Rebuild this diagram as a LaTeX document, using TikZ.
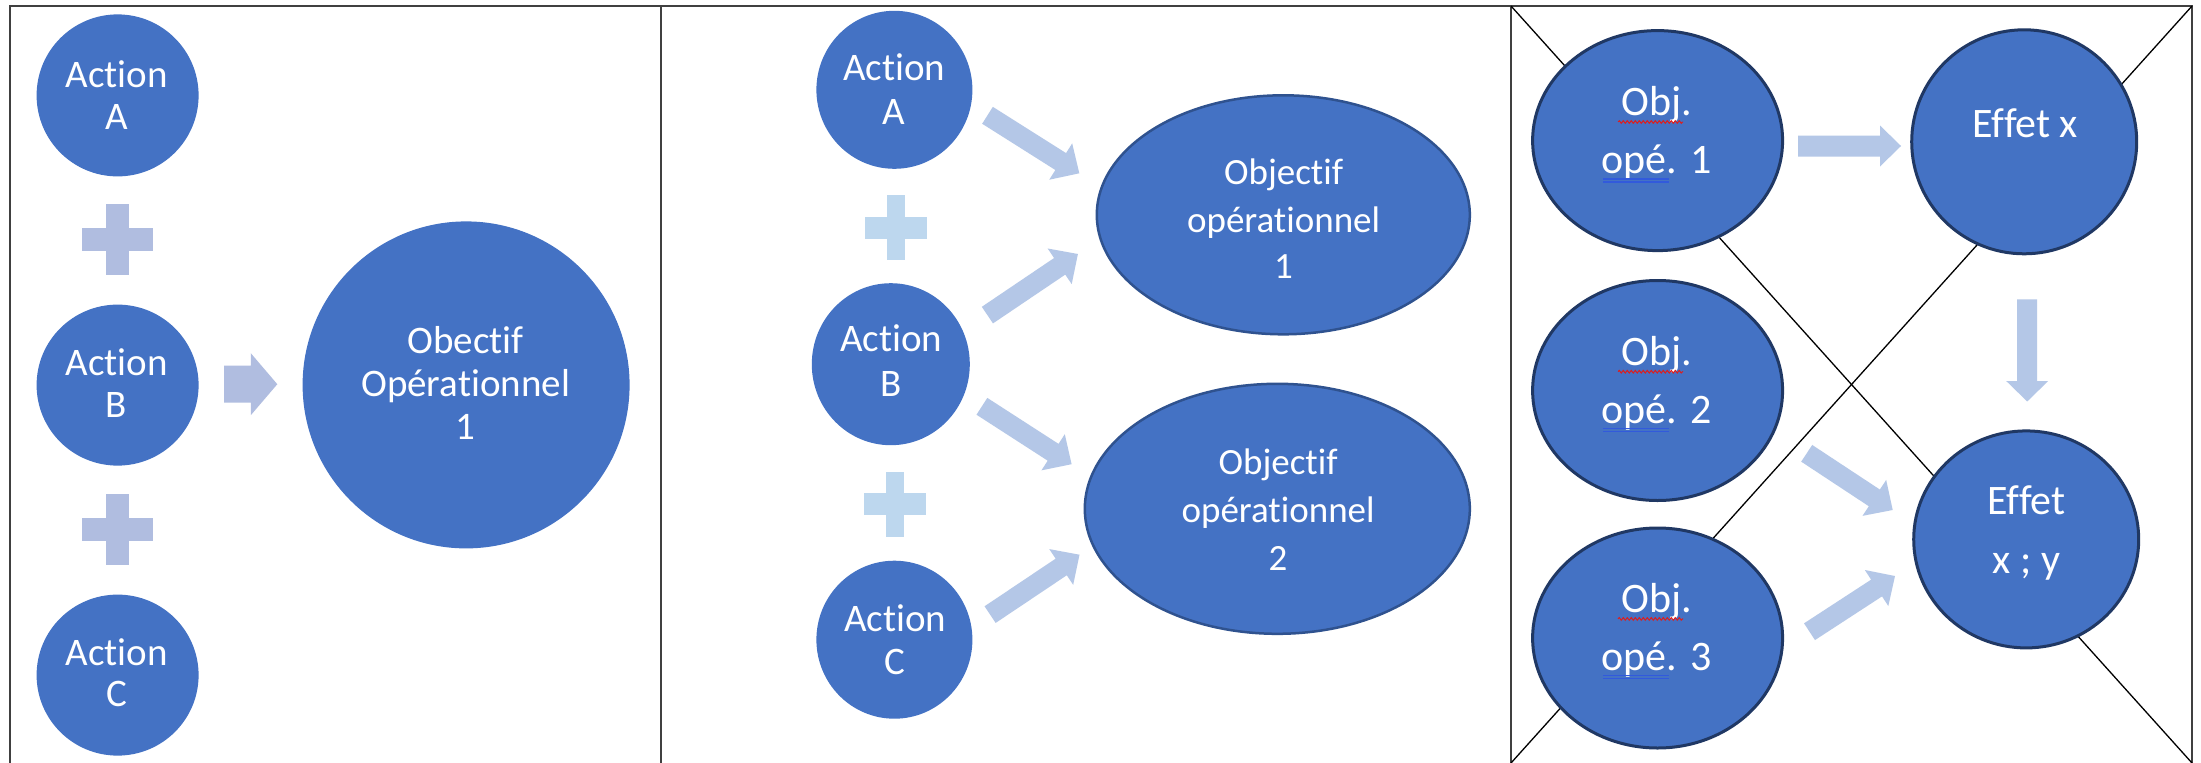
\documentclass[tikz,border=0pt]{standalone}
\usepackage{fontspec}
\setmainfont{Carlito}[Ligatures={NoCommon}]
\usetikzlibrary{shapes.geometric,calc,decorations.pathmorphing}
\definecolor{nodeblue}{HTML}{4472C4}
\definecolor{edgeblue}{HTML}{2F528F}
\definecolor{darknavy}{HTML}{203864}
\definecolor{lav}{RGB}{176,189,224}
\definecolor{paleblue}{RGB}{189,215,238}
\definecolor{arrblue}{RGB}{180,199,231}
\definecolor{framegray}{HTML}{404040}
\definecolor{spellred}{RGB}{220,30,30}
\definecolor{spellblue}{RGB}{50,90,220}
% block arrow: #1 tail, #2 tip, #3 half shaft, #4 half head, #5 head length, #6 colour
\newcommand\blockarr[6]{%
  \coordinate (hb) at ($(#2)!#5pt!(#1)$);
  \fill[#6] ($(#1)!#3pt!90:(#2)$) -- ($(hb)!#3pt!90:(#2)$) -- ($(hb)!#4pt!90:(#2)$)
    -- (#2) -- ($(hb)!#4pt!-90:(#2)$) -- ($(hb)!#3pt!-90:(#2)$) -- ($(#1)!#3pt!-90:(#2)$) -- cycle;}
% plus sign: #1 centre, #2 half length x, #3 half length y, #4 half width of vertical bar, #5 half height of horizontal bar, #6 colour
\newcommand\plussign[6]{%
  \fill[#6] ($(#1)+(-#4,-#3)$) rectangle ($(#1)+(#4,#3)$);
  \fill[#6] ($(#1)+(-#2,-#5)$) rectangle ($(#1)+(#2,#5)$);}
\begin{document}
\begin{tikzpicture}[x=1pt,y=-1pt,
  shp/.style 2 args={ellipse, fill=nodeblue, inner sep=0pt, minimum width=#1pt, minimum height=#2pt},
  shpb/.style 2 args={ellipse, fill=nodeblue, draw=edgeblue, line width=2.5pt, inner sep=0pt, minimum width=#1pt, minimum height=#2pt},
  shpc/.style 2 args={ellipse, fill=nodeblue, draw=darknavy, line width=3pt, inner sep=0pt, minimum width=#1pt, minimum height=#2pt},
  tone/.style={text=white, inner sep=0pt, anchor=base, font=\fontsize{39}{44}\selectfont},
  ttwo/.style={text=white, inner sep=0pt, anchor=base, font=\fontsize{37}{44}\selectfont},
  tthree/.style={text=white, inner sep=0pt, anchor=base, font=\fontsize{42}{48}\selectfont},
  frame/.style={draw=framegray, line width=2pt},
  cross/.style={draw=black, line width=1.3pt},
  wavy/.style={draw=spellred, line width=1pt, decorate, decoration={snake, amplitude=1.3pt, segment length=4pt}},
  dbl/.style={draw=spellblue, line width=1.1pt}]
\useasboundingbox (0,0) rectangle (2201,763);
\fill[white] (0,0) rectangle (2201,763);

% frame
\coordinate (fTL) at (10,6);
\coordinate (fTR) at (2192,6);
\coordinate (fBL) at (10,763);
\coordinate (fBR) at (2192,763);
\coordinate (d1T) at (661,6);
\coordinate (d1B) at (661,763);
\coordinate (d2T) at (1511,6);
\coordinate (d2B) at (1511,763);
\draw[frame] (fBL) -- (fTL) -- (fTR) -- (fBR);
\draw[frame] (d1T) -- (d1B);
\draw[frame] (d2T) -- (d2B);
% cross in third panel
\draw[cross] (d2T) -- (fBR);
\draw[cross] (fTR) -- (d2B);

% ---------- panel 1 ----------
\node[shp={162}{162}] (p1A) at (117.6,95.4) {};
\node[shp={162}{161}] (p1B) at (117.6,385.1) {};
\node[shp={162}{161}] (p1C) at (117.6,675.1) {};
\node[shp={327}{327}] (p1O) at (466.1,384.9) {};
\coordinate (p1plus1) at (117,239.8);
\coordinate (p1plus2) at (117,529);
\plussign{p1plus1}{35.5}{35.5}{11.5}{11.5}{lav}
\plussign{p1plus2}{35.5}{35.5}{11.5}{11.5}{lav}
\coordinate (p1at) at (224,384.2);
\coordinate (p1ah) at (277.3,384.2);
\blockarr{p1at}{p1ah}{18.5}{31}{26.5}{lav}
\node[tone] (t1A1) at (116.5,87.6) {Action};
\node[tone] (t1A2) at (116.5,129) {A};
\node[tone] (t1B1) at (116.5,375.7) {Action};
\node[tone] (t1B2) at (116.5,417.5) {B};
\node[tone] (t1C1) at (116.5,665.2) {Action};
\node[tone] (t1C2) at (116.5,706.6) {C};
\node[tone] (t1O1) at (465.6,353.3) {Obectif};
\node[tone] (t1O2) at (465.6,396.6) {Opérationnel};
\node[tone] (t1O3) at (465.6,439) {1};

% ---------- panel 2 ----------
\node[shp={156}{158}] (p2A) at (894.4,89.8) {};
\node[shp={158}{162}] (p2B) at (890.8,364.2) {};
\node[shp={156}{158}] (p2C) at (894.4,639.7) {};
\node[shpb={373}{239}] (p2O1) at (1283.3,214.8) {};
\node[shpb={385}{250}] (p2O2) at (1277.3,508.8) {};
\coordinate (p2plus1) at (895.8,227.5);
\coordinate (p2plus2) at (894.7,504.4);
\plussign{p2plus1}{31}{32.5}{9}{11}{paleblue}
\plussign{p2plus2}{31}{32.5}{9}{11}{paleblue}
\coordinate (a1t) at (987.5,115.3);
\coordinate (a1h) at (1079.3,173.3);
\coordinate (a2t) at (987.4,315.1);
\coordinate (a2h) at (1077.9,254);
\coordinate (a3t) at (981.9,406.3);
\coordinate (a3h) at (1071.6,464.2);
\coordinate (a4t) at (990.1,614.6);
\coordinate (a4h) at (1079.5,554.7);
\blockarr{a1t}{a1h}{10}{21.5}{22}{arrblue}
\blockarr{a2t}{a2h}{10}{21.5}{22}{arrblue}
\blockarr{a3t}{a3h}{10}{21.5}{22}{arrblue}
\blockarr{a4t}{a4h}{10}{21.5}{22}{arrblue}
\node[tone] (t2A1) at (894.1,80.3) {Action};
\node[tone] (t2A2) at (894.1,124.1) {A};
\node[tone] (t2B1) at (891.4,351.3) {Action};
\node[tone] (t2B2) at (891.4,396.6) {B};
\node[tone] (t2C1) at (895.2,631.1) {Action};
\node[tone] (t2C2) at (895.2,674) {C};
\node[ttwo] (t2O11) at (1283.6,184.9) {Objectif};
\node[ttwo] (t2O12) at (1283.6,232.1) {opérationnel};
\node[ttwo] (t2O13) at (1283.6,278.8) {1};
\node[ttwo] (t2O21) at (1278.1,474.5) {Objectif};
\node[ttwo] (t2O22) at (1278.1,522.1) {opérationnel};
\node[ttwo] (t2O23) at (1278.1,570.8) {2};

% ---------- panel 3 ----------
\node[shpc={250}{220}] (p3O1) at (1657.6,140.6) {};
\node[shpc={250}{220}] (p3O2) at (1657.6,390.5) {};
\node[shpc={250}{220}] (p3O3) at (1657.6,638) {};
\node[shpc={225}{224}] (p3E1) at (2024.2,141.8) {};
\node[shpc={225}{217}] (p3E2) at (2026.2,539.4) {};
\coordinate (b1t) at (1798.2,146);
\coordinate (b1h) at (1901,146);
\coordinate (b2t) at (2027.2,299.3);
\coordinate (b2h) at (2027.2,401.5);
\coordinate (b3t) at (1806.7,453.3);
\coordinate (b3h) at (1892.7,510);
\coordinate (b4t) at (1809.5,631.7);
\coordinate (b4h) at (1895,576);
\blockarr{b1t}{b1h}{10.5}{20.5}{21}{arrblue}
\blockarr{b2t}{b2h}{10}{21}{20.5}{arrblue}
\blockarr{b3t}{b3h}{10}{21.5}{22}{arrblue}
\blockarr{b4t}{b4h}{10}{21.5}{22}{arrblue}
\node[tthree] (t3O11) at (1656.5,115.3) {Obj.};
\node[tthree] (t3O12) at (1656.5,173.7) {opé. 1};
\node[tthree] (t3O21) at (1656.5,365) {Obj.};
\node[tthree] (t3O22) at (1656.5,423.4) {opé. 2};
\node[tthree] (t3O31) at (1656.5,612.2) {Obj.};
\node[tthree] (t3O32) at (1656.5,670.6) {opé. 3};
\node[tthree] (t3E11) at (2025.3,137.7) {Effet x};
\node[tthree] (t3E21) at (2026.6,514.8) {Effet};
\node[tthree] (t3E22) at (2026.6,573.2) {x ; y};
% spell-check marks
\draw[wavy] (1618,122) -- (1683,122);
\draw[wavy] (1618,371.7) -- (1683,371.7);
\draw[wavy] (1618,618.9) -- (1683,618.9);
\draw[dbl] (1603,179) -- (1669,179);
\draw[dbl] (1603,182) -- (1669,182);
\draw[dbl] (1603,428.7) -- (1669,428.7);
\draw[dbl] (1603,431.7) -- (1669,431.7);
\draw[dbl] (1603,675.9) -- (1669,675.9);
\draw[dbl] (1603,678.9) -- (1669,678.9);
\end{tikzpicture}
\end{document}
